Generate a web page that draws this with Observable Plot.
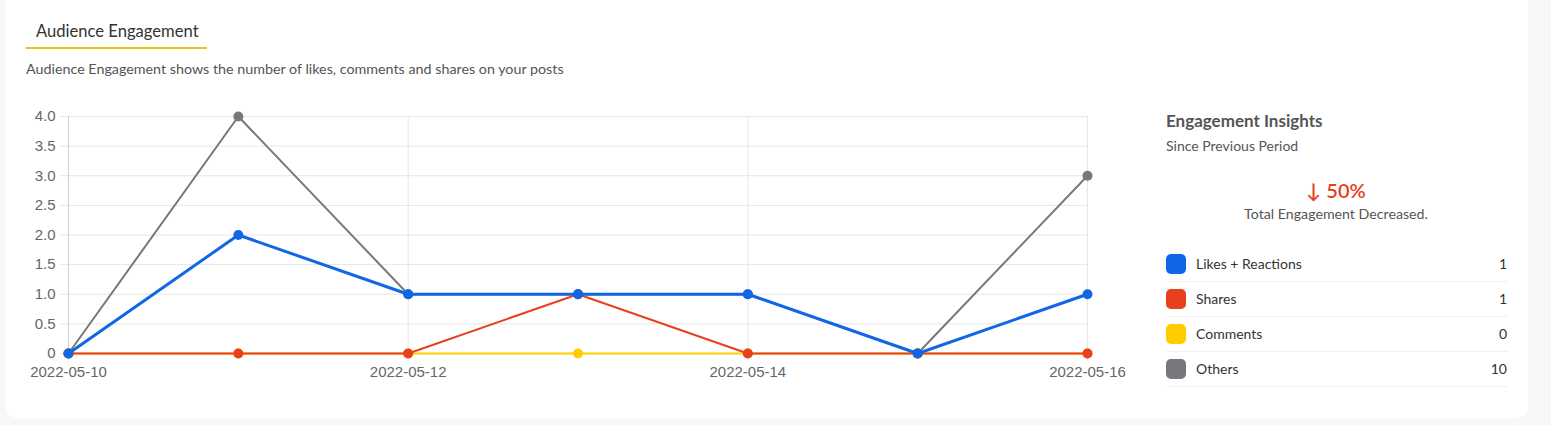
<!DOCTYPE html>
<html>
<head>
<meta charset="utf-8">
<script src="https://cdn.jsdelivr.net/npm/d3@7"></script>
<script src="https://cdn.jsdelivr.net/npm/@observablehq/plot@0.6"></script>
<style>
  html, body { margin: 0; padding: 0; background: #f7f8fa; width: 1551px; height: 425px; overflow: hidden; }
  #card { position: absolute; left: 6px; top: -12px; width: 1522px; height: 430px; background: #fff; border-radius: 10px; }
  .txt { position: absolute; font-family: Lato, "Open Sans", sans-serif; white-space: nowrap; }
  #title { left: 36px; top: 20px; font-size: 16.6px; color: #333; line-height: 22px; }
  #uline { position: absolute; left: 26px; top: 47px; width: 181px; height: 1.5px; background: #f2c21b; }
  #sub { left: 26px; top: 60px; font-size: 14.3px; color: #555; line-height: 18px; }
  #chart { position: absolute; left: 0; top: 100px; }
  #ins-title { left: 1166px; top: 110px; font-size: 17px; font-weight: 700; color: #555; line-height: 22px; }
  #ins-sub { left: 1166px; top: 137px; font-size: 14px; color: #555; line-height: 18px; }
  #pct { left: 1236px; width: 200px; text-align: center; top: 178px; font-size: 20px; font-weight: 600; color: #e8401c; line-height: 24px; }
  #pct-sub { left: 1186px; width: 300px; text-align: center; top: 205px; font-size: 14.2px; color: #555; line-height: 18px; }
  .row { position: absolute; left: 1166px; width: 342px; height: 34px; border-bottom: 1px solid #eef0f2; font-family: Lato, "Open Sans", sans-serif; font-size: 14px; color: #333; }
  .sw { position: absolute; left: 0; top: 7px; width: 20px; height: 20px; border-radius: 5px; }
  .lab { position: absolute; left: 30px; top: 8px; line-height: 18px; }
  .val { position: absolute; right: 1px; top: 8px; line-height: 18px; }
</style>
</head>
<body>
<div id="card"></div>
<div class="txt" id="title">Audience Engagement</div>
<div id="uline"></div>
<div class="txt" id="sub">Audience Engagement shows the number of likes, comments and shares on your posts</div>
<div id="chart"></div>
<div class="txt" id="ins-title">Engagement Insights</div>
<div class="txt" id="ins-sub">Since Previous Period</div>
<div class="txt" id="pct">↓ 50%</div>
<div class="txt" id="pct-sub">Total Engagement Decreased.</div>
<div id="legend"></div>
<script>
const dates = ["2022-05-10","2022-05-11","2022-05-12","2022-05-13","2022-05-14","2022-05-15","2022-05-16"];
const likes    = [0, 2, 1, 1, 1, 0, 1];
const shares   = [0, 0, 0, 1, 0, 0, 0];
const comments = [0, 0, 0, 0, 0, 0, 0];
const others   = [0, 4, 1, 1, 1, 0, 3];
const xTickLabels = ["2022-05-10","2022-05-12","2022-05-14","2022-05-16"];
const yTicks = [0, 0.5, 1, 1.5, 2, 2.5, 3, 3.5, 4];
const legendLabels = ["Likes + Reactions", "Shares", "Comments", "Others"];
const legendTotals = [1, 1, 0, 10];
const colors = ["#1166e6", "#e8401c", "#ffcc00", "#76787c"];

const parse = d3.utcParse("%Y-%m-%d");
const mk = (vals) => dates.map((d, i) => ({date: parse(d), v: vals[i]}));
const series = [mk(likes), mk(shares), mk(comments), mk(others)];
const widths = [3, 2, 2, 2];
const xTicks = xTickLabels.map(parse);
const axisFont = "'Liberation Sans', Arial, sans-serif";

const marks = [
  Plot.gridY(yTicks, {stroke: "#e6e6e6", strokeOpacity: 1}),
  Plot.gridX(xTicks, {stroke: "#e6e6e6", strokeOpacity: 1}),
  Plot.axisY(yTicks, {label: null, tickSize: 8, tickPadding: 5, stroke: "#e6e6e6", fill: "#666", fontSize: 15, fontFamily: axisFont, tickFormat: d => d === 0 ? "0" : d.toFixed(1)}),
  Plot.axisX(xTicks, {label: null, tickSize: 8, tickPadding: 5, stroke: "#e6e6e6", fill: "#666", fontSize: 15, fontFamily: axisFont, tickFormat: d3.utcFormat("%Y-%m-%d")}),
  Plot.ruleX([xTicks[0]], {stroke: "#cfcfcf", y1: 0, y2: 4})
];
// draw in reverse order so the first series is on top
for (let i = series.length - 1; i >= 0; i--) {
  marks.push(Plot.line(series[i], {x: "date", y: "v", stroke: colors[i], strokeWidth: widths[i]}));
  marks.push(Plot.dot(series[i], {x: "date", y: "v", fill: colors[i], r: 5}));
}

const plot = Plot.plot({
  width: 1130,
  height: 285,
  marginLeft: 68,
  marginRight: 43,
  marginTop: 16,
  marginBottom: 32,
  x: {type: "utc", domain: [parse(dates[0]), parse(dates[dates.length - 1])], label: null},
  y: {domain: [0, 4], label: null},
  style: {background: "transparent", overflow: "visible", fontSize: "15px", fontFamily: axisFont},
  marks
});
document.getElementById("chart").appendChild(plot);

const legend = document.getElementById("legend");
legendLabels.forEach((lab, i) => {
  const row = document.createElement("div");
  row.className = "row";
  row.style.top = (247 + i * 35) + "px";
  row.innerHTML = `<div class="sw" style="background:${colors[i]}"></div><div class="lab">${lab}</div><div class="val">${legendTotals[i]}</div>`;
  legend.appendChild(row);
});
</script>
</body>
</html>
